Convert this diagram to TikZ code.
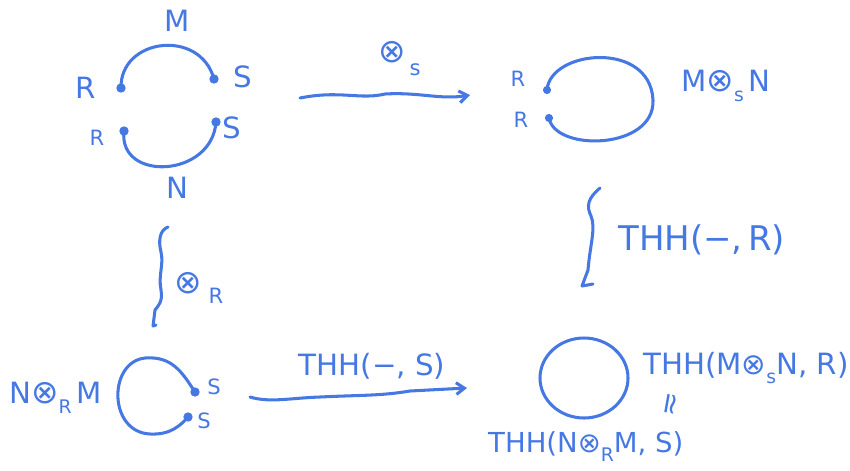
\documentclass[tikz,border=0pt]{standalone}
\usepackage{fontspec}
\setmainfont{DejaVu Sans}
\usetikzlibrary{arrows.meta}
\definecolor{pen}{RGB}{70,120,228}
\newcommand{\lowsub}[1]{\raisebox{-0.6ex}{\fontsize{16}{16}\selectfont #1}}
\newcommand{\bigot}{{\fontsize{28}{28}\selectfont ⊗}}
\tikzset{
  stroke/.style={draw=pen, line width=2.6pt, line cap=round, line join=round},
  dotpt/.style={circle, fill=pen, inner sep=0pt, minimum size=8pt},
  lbl/.style={text=pen, inner sep=0pt, font=\fontsize{25}{25}\selectfont},
  slbl/.style={text=pen, inner sep=0pt, font=\fontsize{18}{18}\selectfont},
  blbl/.style={text=pen, inner sep=0pt, font=\fontsize{29}{29}\selectfont},
  tipend/.style={-{Straight Barb[length=7pt,width=10pt,line width=2.6pt]}},
}
\begin{document}
\begin{tikzpicture}[x=0.03cm,y=-0.03cm]
\useasboundingbox (0,0) rectangle (850,470);
% ---------- top left ----------
\node[lbl] (Mlab) at (177,21) {M};
\node[lbl] (R1) at (86,88) {R};
\node[lbl] (S1) at (243,77) {S};
\node[slbl] (R2) at (97,138) {R};
\node[lbl] (S2) at (232,128) {S};
\node[lbl] (Nlab) at (177,188) {N};
\node[dotpt] (mR) at (121,88) {};
\node[dotpt] (mS) at (214,79) {};
\node[dotpt] (nR) at (124,131) {};
\node[dotpt] (nS) at (216,122) {};
\draw[stroke] (mR.center) .. controls (120,38) and (200,28) .. (mS.center);
\draw[stroke] (nR.center) .. controls (118,182) and (212,178) .. (nS.center);
% ---------- top arrow ----------
\coordinate (tA) at (300,98);
\coordinate (tB) at (470,95);
\draw[stroke, tipend] (tA) .. controls (340,90) and (360,100) .. (385,94)
   .. controls (420,92) and (440,100) .. (tB);
\node[lbl] (otS) at (392,52) {\bigot};
\node[slbl] (otSs) at (415,70) {s};
% ---------- top right ----------
\node[slbl] (R3) at (518,79) {R};
\node[slbl] (R4) at (521,120) {R};
\node[dotpt, minimum size=7pt] (trA) at (547,90) {};
\node[dotpt, minimum size=7pt] (trB) at (549,118) {};
\draw[stroke] (trA.center) .. controls (550,50) and (650,40) .. (653,100)
   .. controls (655,150) and (555,152) .. (trB.center);
\node[lbl, anchor=west] (MSN) at (681,86) {M\bigot\lowsub{s}\,N};
% ---------- right vertical ----------
\coordinate (rvTop) at (600,188);
\coordinate (rvBot) at (593,284);
\draw[stroke] (rvTop) .. controls (588,198) and (586,206) .. (591,216)
   .. controls (596,228) and (590,245) .. (588,270) -- (582,286) -- (rvBot);
\node[blbl, anchor=west] (thhR) at (618,240) {THH(−,\,R)};
% ---------- left vertical ----------
\coordinate (lvTop) at (168,227);
\coordinate (lvBot) at (156,325);
\draw[stroke] (lvTop) .. controls (160,230) and (158,240) .. (161,252)
   .. controls (164,265) and (158,275) .. (161,290)
   .. controls (163,302) and (158,306) .. (155,310) -- (153,326) -- (lvBot);
\node[lbl] (otR) at (188,283) {\bigot};
\node[slbl] (otRs) at (216,296) {R};
% ---------- bottom left ----------
\node[lbl, anchor=west] (NRM) at (9,398) {N\bigot\lowsub{R}\,M};
\node[dotpt] (blA) at (195,392) {};
\node[dotpt] (blB) at (188,417) {};
\draw[stroke] (blA.center) .. controls (182,372) and (172,356) .. (145,358)
   .. controls (108,362) and (108,432) .. (150,434)
   .. controls (170,435) and (180,426) .. (blB.center);
\node[slbl] (S3) at (214,387) {S};
\node[slbl] (S4) at (204,421) {S};
% ---------- bottom arrow ----------
\coordinate (bA) at (250,397);
\coordinate (bB) at (467,388);
\draw[stroke, tipend] (bA) .. controls (270,403) and (290,398) .. (320,397)
   .. controls (360,395) and (380,396) .. (410,391) -- (bB);
\node[blbl, font=\fontsize{25}{25}\selectfont] (thhS) at (372,366) {THH(−, S)};
% ---------- bottom right ----------
\coordinate (circ) at (584,378);
\draw[stroke] (circ) ellipse [x radius=44, y radius=40];
\node[lbl, anchor=west] (thhMN) at (643,368) {THH(M⊗\lowsub{s}N, R)};
\node[lbl, rotate=-100] (simeq) at (668,404) {≃};
\node[lbl, anchor=west, font=\fontsize{23.5}{24}\selectfont] (thhNM) at (488,447) {THH(N⊗\lowsub{R}M, S)};
\end{tikzpicture}
\end{document}
